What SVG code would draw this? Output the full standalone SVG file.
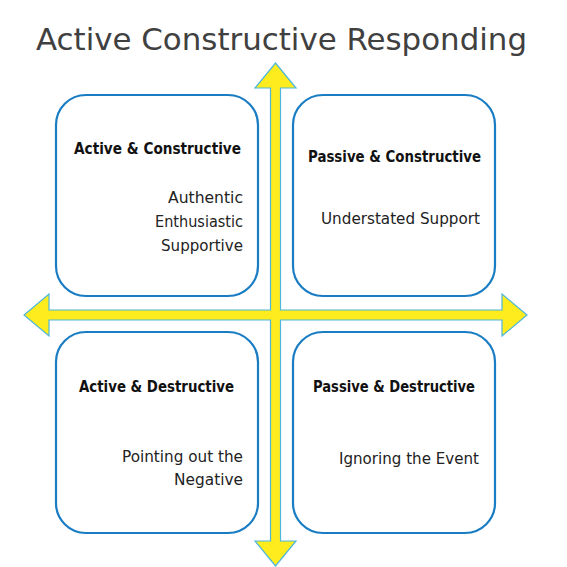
<svg xmlns="http://www.w3.org/2000/svg" width="567" height="567" viewBox="0 0 567 567">
<style>
.box{fill:#fff;stroke:#1a7dc4;stroke-width:2.2}
.hd{font-family:"DejaVu Sans","Liberation Sans",sans-serif;font-weight:bold;font-size:15px;fill:#111}
.tx{font-family:"DejaVu Sans","Liberation Sans",sans-serif;font-size:15px;fill:#222}
.title{font-family:"DejaVu Sans","Liberation Sans",sans-serif;font-size:30px;fill:#404040}
.arrow{fill:#ffec1e;stroke:#4cb6dc;stroke-width:1.2;stroke-linejoin:miter}
</style>
<rect width="567" height="567" fill="#fff"/>
<text id="title" class="title" x="36" y="50" textLength="491" lengthAdjust="spacingAndGlyphs">Active Constructive Responding</text>
<g id="connectors">
<path class="arrow" d="M275.5,63 L296,88 L280.5,88 L280.5,310 L502,310 L502,294 L527,315 L502,336 L502,320 L280.5,320 L280.5,541 L296,541 L275.5,566 L255,541 L270.5,541 L270.5,320 L49,320 L49,336 L24,315 L49,294 L49,310 L270.5,310 L270.5,88 L255,88 Z"/>
</g>
<g id="active-constructive">
<rect class="box" x="56" y="95" width="202" height="201" rx="30"/>
<text class="hd" x="74" y="154" textLength="167" lengthAdjust="spacingAndGlyphs">Active &amp; Constructive</text>
<text class="tx" x="168" y="203" textLength="75" lengthAdjust="spacingAndGlyphs">Authentic</text>
<text class="tx" x="155" y="227" textLength="88" lengthAdjust="spacingAndGlyphs">Enthusiastic</text>
<text class="tx" x="161" y="251" textLength="82" lengthAdjust="spacingAndGlyphs">Supportive</text>
</g>
<g id="passive-constructive">
<rect class="box" x="293" y="95" width="202" height="201" rx="30"/>
<text class="hd" x="308" y="162" textLength="173" lengthAdjust="spacingAndGlyphs">Passive &amp; Constructive</text>
<text class="tx" x="321" y="224" textLength="159" lengthAdjust="spacingAndGlyphs">Understated Support</text>
</g>
<g id="active-destructive">
<rect class="box" x="56" y="332" width="202" height="201" rx="30"/>
<text class="hd" x="79" y="392" textLength="155" lengthAdjust="spacingAndGlyphs">Active &amp; Destructive</text>
<text class="tx" x="122" y="462" textLength="121" lengthAdjust="spacingAndGlyphs">Pointing out the</text>
<text class="tx" x="174" y="485" textLength="69" lengthAdjust="spacingAndGlyphs">Negative</text>
</g>
<g id="passive-destructive">
<rect class="box" x="293" y="332" width="202" height="201" rx="30"/>
<text class="hd" x="313" y="392" textLength="162" lengthAdjust="spacingAndGlyphs">Passive &amp; Destructive</text>
<text class="tx" x="339" y="464" textLength="140" lengthAdjust="spacingAndGlyphs">Ignoring the Event</text>
</g>
</svg>
